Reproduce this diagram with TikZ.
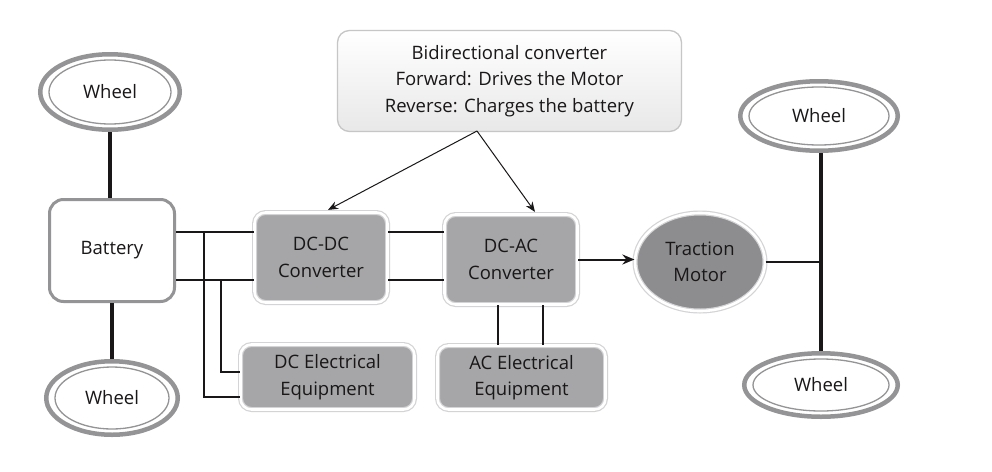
\documentclass[tikz,border=0pt]{standalone}
\usepackage{fontspec}
\setmainfont{Open Sans}
\usetikzlibrary{shapes.geometric,arrows.meta,calc}
\definecolor{txt}{HTML}{1A1718}
\definecolor{ring}{HTML}{949496}
\definecolor{boxfill}{HTML}{A6A6A8}
\definecolor{motfill}{HTML}{8D8D8F}
\definecolor{halo}{HTML}{D4D4D6}
\begin{document}
\begin{tikzpicture}[x=1pt,y=-1pt,
  every node/.style={text=txt,font=\fontsize{18.5}{26.5}\selectfont,align=center},
  wheel/.style={ellipse,draw=ring,line width=4.5pt,fill=white,inner sep=0pt},
  grbox/.style={rectangle,rounded corners=11pt,fill=boxfill,draw=halo,line width=1.2pt,double=white,double distance=2.6pt,inner sep=0pt},
  batbox/.style={rectangle,rounded corners=14pt,fill=white,draw=ring,line width=3pt,inner sep=0pt},
  wire/.style={draw=txt,line width=1.8pt},
  axle/.style={draw=txt,line width=4pt},
  arr/.style={draw=txt,line width=1pt,-{Stealth[length=10pt,width=8pt]}},
  arrb/.style={draw=txt,line width=2pt,-{Stealth[length=12pt,width=10pt]}}
]
\useasboundingbox (0,0) rectangle (992,471);
\fill[white] (0,0) rectangle (992,471);

% wheels
\node[wheel,minimum width=139.5pt,minimum height=75.5pt] (w1) at (110,92) {Wheel};
\node[wheel,minimum width=131.5pt,minimum height=73.5pt] (w2) at (112,398) {Wheel};
\node[wheel,minimum width=157.5pt,minimum height=69.5pt] (w3) at (819,116) {Wheel};
\node[wheel,minimum width=153.5pt,minimum height=63.5pt] (w4) at (821,385) {Wheel};
\foreach \w/\a/\b in {w1/61/32,w2/57/31,w3/70/29,w4/68/26}
  \draw[ring,line width=1.3pt] (\w.center) ellipse ({\a pt} and {\b pt});

% battery
\node[batbox,minimum width=125pt,minimum height=102pt] (bat) at (112,250.5) {Battery};

% converters
\node[grbox,minimum width=133pt,minimum height=90pt] (dcdc) at (321,257.5) {DC-DC\\Converter};
\node[grbox,minimum width=133pt,minimum height=90pt] (dcac) at (511,259.5) {DC-AC\\Converter};
\node[grbox,minimum width=174pt,minimum height=65pt] (dceq) at (327.5,377) {DC Electrical\\Equipment};
\node[grbox,minimum width=168pt,minimum height=64pt] (aceq) at (521.5,377.5) {AC Electrical\\Equipment};

% motor
\node[ellipse,fill=motfill,draw=halo,line width=1.2pt,double=white,double distance=2.6pt,minimum width=130pt,minimum height=98pt,inner sep=0pt] (mot) at (700,262) {Traction\\Motor};

% top note
\node[rectangle,rounded corners=12pt,top color=white,bottom color=gray!18,draw=gray!45,line width=1.3pt,minimum width=344pt,minimum height=101pt,inner sep=0pt] (note) at (509.5,81) {Bidirectional converter\\Forward: Drives the Motor\\Reverse: Charges the battery};

% axles
\draw[axle] (w1.south) -- (w1.south |- bat.north);
\draw[axle] (w2.north |- bat.south) -- (w2.north);
\draw[axle] (w3.south -| w4.north) -- (w4.north);

% battery wiring
\coordinate (ja) at (204,232);
\coordinate (jb) at (221,280);
\draw[wire] (bat.east |- ja) -- (dcdc.west |- ja);
\draw[wire] (bat.east |- jb) -- (dcdc.west |- jb);
\draw[wire] (ja) |- ($(dceq.west)+(0,20)$);
\draw[wire] (jb) |- ($(dceq.west)+(0,-5)$);

% converter links
\draw[wire] (dcdc.east |- ja) -- (dcac.west |- ja);
\draw[wire] (dcdc.east |- jb) -- (dcac.west |- jb);
\draw[wire] (dcac.south -| 498,0) -- (aceq.north -| 498,0);
\draw[wire] (dcac.south -| 543,0) -- (aceq.north -| 543,0);

% to motor
\draw[arrb] (dcac.east) -- (dcac.east -| mot.west);
\draw[wire] (mot.east) -- (mot.east -| w4.north);

% note arrows
\coordinate (ns) at (477,131);
\draw[arr] (ns) -- ($(dcdc.north)+(7,-2)$);
\draw[arr] (ns) -- ($(dcac.north)+(24,-2)$);
\end{tikzpicture}
\end{document}
